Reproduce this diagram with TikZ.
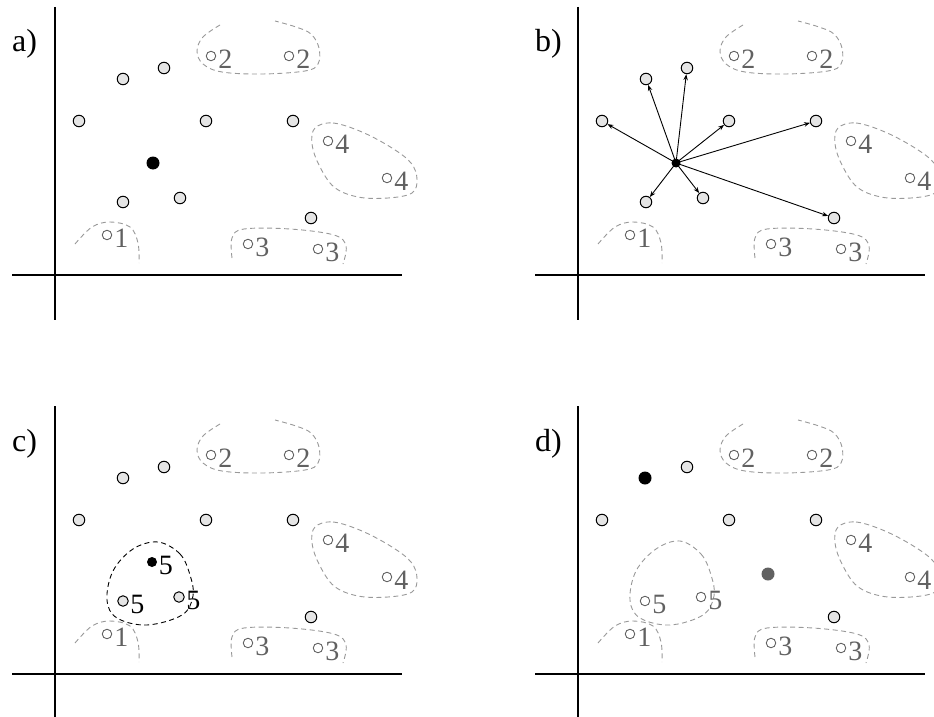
\documentclass[tikz,border=0pt]{standalone}
\usepackage{fontspec}
\setmainfont{Liberation Serif}
\usetikzlibrary{arrows.meta}
\definecolor{ptgray}{gray}{0.90}
\definecolor{lblgray}{gray}{0.38}
\definecolor{clgray}{gray}{0.60}
\definecolor{dkgray}{gray}{0.38}
\tikzset{
  pt/.style={circle, draw=black, fill=ptgray, line width=1pt, minimum size=11.5pt, inner sep=0pt},
  blk/.style={circle, fill=black, minimum size=13pt, inner sep=0pt},
  sblk/.style={circle, fill=black, minimum size=9pt, inner sep=0pt},
  cblk/.style={circle, fill=black, minimum size=10pt, inner sep=0pt},
  dkpt/.style={circle, fill=dkgray, minimum size=13pt, inner sep=0pt},
  sm/.style={circle, draw=lblgray, line width=0.9pt, minimum size=9.5pt, inner sep=0pt},
  lbl/.style={font=\fontsize{28}{28}\selectfont, text=lblgray, anchor=west, inner sep=0pt},
  blbl/.style={font=\fontsize{28}{28}\selectfont, text=black, anchor=west, inner sep=0pt},
  plab/.style={font=\fontsize{32}{32}\selectfont, anchor=base west, inner sep=0pt},
  clus/.style={draw=clgray, dash pattern=on 5pt off 3.5pt, line width=0.9pt},
  bclus/.style={draw=black, dash pattern=on 5pt off 3.5pt, line width=0.9pt},
  ax/.style={line width=1.2pt},
  arr/.style={-{Stealth[length=6pt,width=4.5pt]}, line width=0.9pt}
}
% small numbered item: name, x, y, text, style
\newcommand\smitem[5]{%
  \node[sm] (#1) at (#2,#3) {};
  \node[#5] (#1t) at ([xshift=2pt,yshift=-3pt]#1.east) {#4};}
\newcommand\basepanel[2]{%
  \coordinate (#1yt) at (55,7);
  \coordinate (#1yb) at (55,320);
  \coordinate (#1xl) at (12,275);
  \coordinate (#1xr) at (402,275);
  \draw[ax] (#1yt) -- (#1yb);
  \draw[ax] (#1xl) -- (#1xr);
  \node[plab] (#1lab) at (12,52) {#2};
  % cluster 2
  \draw[clus] plot[smooth, tension=0.6] coordinates {(220,25) (203,37) (197,51) (203,64) (222,72) (262,74) (305,71) (318,64) (319,48) (311,34) (296,27) (275,21)};
  \smitem{#1c2a}{211}{56}{2}{lbl}
  \smitem{#1c2b}{289}{56}{2}{lbl}
  % cluster 4
  \draw[clus] plot[smooth cycle, tension=0.6] coordinates {(315,128) (333,123) (362,132) (392,148) (411,163) (417,179) (412,193) (388,198) (358,197) (334,187) (319,165) (312,144)};
  \smitem{#1c4a}{328}{141}{4}{lbl}
  \smitem{#1c4b}{387}{178}{4}{lbl}
  % cluster 1
  \draw[clus] plot[smooth, tension=0.6] coordinates {(75,244) (92,227) (110,222) (130,227) (138,243) (139,263)};
  \smitem{#1c1}{107}{235}{1}{lbl}
  % cluster 3
  \draw[clus] plot[smooth, tension=0.6] coordinates {(232,258) (232,238) (244,229) (290,229) (334,235) (346,246) (343,264)};
  \smitem{#1c3a}{248}{244}{3}{lbl}
  \smitem{#1c3b}{318}{249}{3}{lbl}
}
\begin{document}
\begin{tikzpicture}[x=1pt, y=-1pt]
\useasboundingbox (0,0) rectangle (934,717);
% ---------- a)
\begin{scope}
  \basepanel{a}{a)}
  \node[pt] (ap1) at (123,79) {};
  \node[pt] (ap2) at (164,68) {};
  \node[pt] (ap3) at (79,121) {};
  \node[pt] (ap4) at (206,121) {};
  \node[pt] (ap5) at (293,121) {};
  \node[pt] (ap6) at (123,202) {};
  \node[pt] (ap7) at (180,198) {};
  \node[pt] (ap8) at (311,218) {};
  \node[blk] (ac) at (153,163) {};
\end{scope}
% ---------- b)
\begin{scope}[shift={(523,0)}]
  \basepanel{b}{b)}
  \node[pt] (bp1) at (123,79) {};
  \node[pt] (bp2) at (164,68) {};
  \node[pt] (bp3) at (79,121) {};
  \node[pt] (bp4) at (206,121) {};
  \node[pt] (bp5) at (293,121) {};
  \node[pt] (bp6) at (123,202) {};
  \node[pt] (bp7) at (180,198) {};
  \node[pt] (bp8) at (311,218) {};
  \node[sblk] (bc) at (153,163) {};
  \foreach \i in {1,...,8} { \draw[arr] (bc.center) -- (bp\i); }
\end{scope}
% ---------- c)
\begin{scope}[shift={(0,399)}]
  \basepanel{c}{c)}
  \node[pt] (cp1) at (123,79) {};
  \node[pt] (cp2) at (164,68) {};
  \node[pt] (cp3) at (79,121) {};
  \node[pt] (cp4) at (206,121) {};
  \node[pt] (cp5) at (293,121) {};
  \node[pt] (cp8) at (311,218) {};
  \draw[bclus] plot[smooth cycle, tension=0.6] coordinates {(158,143) (180,155) (190,176) (193,197) (182,216) (147,226) (117,219) (107,201) (113,172) (133,150)};
  \node[pt, minimum size=10.5pt] (cp6) at (123,202) {};
  \node[pt, minimum size=10.5pt] (cp7) at (179,198) {};
  \node[cblk] (cc) at (152,163) {};
  \node[blbl] (cct) at ([xshift=1.5pt,yshift=-3pt]cc.east) {5};
  \node[blbl] (cp6t) at ([xshift=1.5pt,yshift=-3pt]cp6.east) {5};
  \node[blbl] (cp7t) at ([xshift=1.5pt,yshift=-3pt]cp7.east) {5};
\end{scope}
% ---------- d)
\begin{scope}[shift={(523,399)}]
  \basepanel{d}{d)}
  \node[blk] (dp1) at (122,79) {};
  \node[pt] (dp2) at (164,68) {};
  \node[pt] (dp3) at (79,121) {};
  \node[pt] (dp4) at (206,121) {};
  \node[pt] (dp5) at (293,121) {};
  \node[pt] (dp8) at (311,218) {};
  \draw[clus] plot[smooth cycle, tension=0.6] coordinates {(157,142) (178,155) (188,176) (191,197) (180,216) (147,226) (117,219) (107,201) (113,172) (133,150)};
  \smitem{dc5a}{122}{202}{5}{lbl}
  \smitem{dc5b}{178}{198}{5}{lbl}
  \node[dkpt] (dg) at (245,175) {};
\end{scope}
\end{tikzpicture}
\end{document}
